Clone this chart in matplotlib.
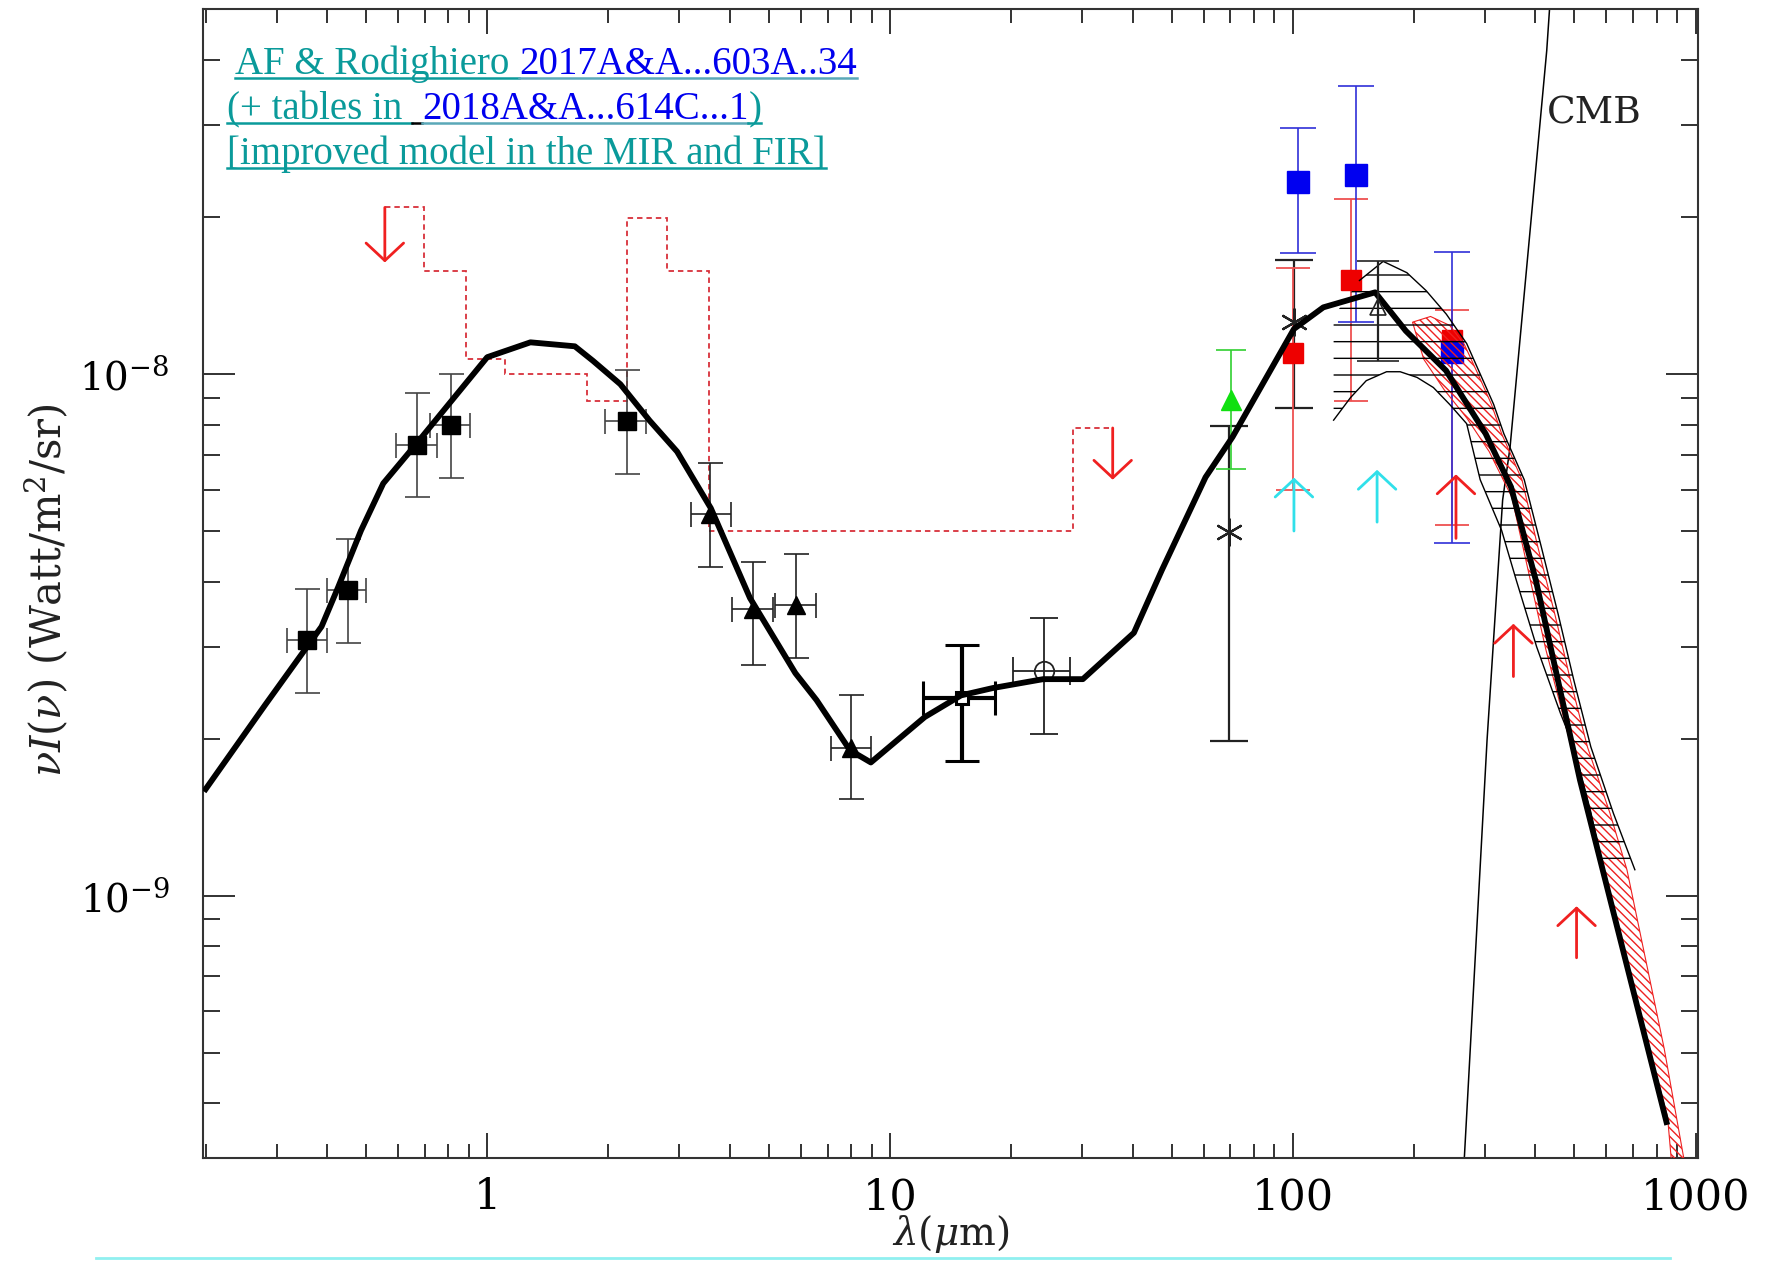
"""Extragalactic background light SED: model, data points, limits and the CMB."""
import matplotlib
matplotlib.use("Agg")
import matplotlib.pyplot as plt
from matplotlib.lines import Line2D
from matplotlib.patches import Polygon
from matplotlib.ticker import FixedLocator, LogLocator, NullFormatter, FuncFormatter
import numpy as np

plt.rcParams['font.family'] = 'DejaVu Serif'
plt.rcParams['mathtext.fontset'] = 'dejavuserif'
plt.rcParams['hatch.linewidth'] = 1.0

# model SED (thick black curve)
model_lam = [0.20, 0.281, 0.388, 0.427, 0.486, 0.552, 0.670, 0.814, 1.00, 1.28,
             1.65, 1.83, 2.14, 2.53, 2.96, 3.59, 4.49, 5.82, 6.57, 7.95, 8.96,
             12.2, 15.0, 18.0, 24.0, 30.1, 40.3, 47.3, 60.7, 70.8, 100.6, 119,
             160, 190.6, 240, 301, 348, 401, 516, 846]
model_nuI = [1.60e-9, 2.32e-9, 3.28e-9, 3.91e-9, 5.01e-9, 6.17e-9, 7.38e-9,
             8.87e-9, 1.077e-8, 1.15e-8, 1.13e-8, 1.06e-8, 9.56e-9, 8.14e-9,
             7.10e-9, 5.53e-9, 3.72e-9, 2.67e-9, 2.37e-9, 1.90e-9, 1.80e-9,
             2.20e-9, 2.42e-9, 2.50e-9, 2.60e-9, 2.60e-9, 3.19e-9, 4.21e-9,
             6.34e-9, 7.57e-9, 1.22e-8, 1.342e-8, 1.434e-8, 1.21e-8, 1.015e-8,
             7.68e-9, 6.07e-9, 4.02e-9, 1.665e-9, 3.68e-10]

# CMB blackbody
cmb_lam = [435, 426.7, 346, 331.6, 303.4, 266.6, 264]
cmb_nuI = [5.2e-8, 4.17e-8, 7.24e-9, 5.73e-9, 1.99e-9, 3.17e-10, 2.9e-10]

# upper-limit histogram (red dashed steps)
ul_edges = [0.557, 0.696, 0.888, 1.106, 1.764, 2.218, 2.798, 3.556, 28.5, 35.7]
ul_vals = [2.086e-8, 1.578e-8, 1.069e-8, 1.0e-8, 8.87e-9, 1.99e-8, 1.578e-8,
           5.0e-9, 7.88e-9]

# optical / NIR squares
sq_x = [0.356, 0.450, 0.670, 0.815, 2.22]
sq_y = [3.09e-9, 3.85e-9, 7.31e-9, 7.97e-9, 8.11e-9]
sq_ylo = [2.45e-9, 3.05e-9, 5.81e-9, 6.32e-9, 6.44e-9]
sq_yhi = [3.87e-9, 4.82e-9, 9.19e-9, 1.0e-8, 1.018e-8]
sq_xlo = [0.319, 0.400, 0.593, 0.720, 1.96]
sq_xhi = [0.400, 0.501, 0.749, 0.905, 2.48]

# NIR / MIR triangles
tri_x = [3.58, 4.57, 5.83, 8.0]
tri_y = [5.40e-9, 3.55e-9, 3.60e-9, 1.92e-9]
tri_ylo = [4.26e-9, 2.77e-9, 2.85e-9, 1.53e-9]
tri_yhi = [6.75e-9, 4.37e-9, 4.51e-9, 2.42e-9]
tri_xlo = [3.21, 4.06, 5.18, 7.14]
tri_xhi = [4.04, 5.11, 6.54, 8.99]

# 15 and 24 micron points
osq_x, osq_y, osq_ylo, osq_yhi, osq_xlo, osq_xhi = 15.06, 2.39e-9, 1.81e-9, 3.02e-9, 12.1, 18.2
oc_x, oc_y, oc_ylo, oc_yhi, oc_xlo, oc_xhi = 24.1, 2.70e-9, 2.04e-9, 3.40e-9, 20.2, 28.0

# FIR points
ast_x = [69.4, 100.6]
ast_y = [4.98e-9, 1.256e-8]
ast_ylo = [1.98e-9, 8.6e-9]
ast_yhi = [7.94e-9, 1.657e-8]

otri_x, otri_y, otri_ylo, otri_yhi = 162.9, 1.342e-8, 1.061e-8, 1.644e-8
grn_x, grn_y, grn_ylo, grn_yhi = 70.2, 8.9e-9, 6.56e-9, 1.112e-8

blue_x = [102.9, 143.6, 247.8]
blue_y = [2.336e-8, 2.406e-8, 1.10e-8]
blue_ylo = [1.707e-8, 1.257e-8, 4.74e-9]
blue_yhi = [2.96e-8, 3.565e-8, 1.715e-8]

red_x = [100.0, 139.1, 247.8]
red_y = [1.096e-8, 1.514e-8, 1.162e-8]
red_ylo = [5.98e-9, 8.89e-9, 5.14e-9]
red_yhi = [1.598e-8, 2.165e-8, 1.328e-8]

# lower limits (x, arrow base, arrow tip)
cyan_lim = [(100.6, 5.0e-9, 6.33e-9), (161.8, 5.2e-9, 6.55e-9)]
red_lim = [(254, 4.84e-9, 6.42e-9), (352.7, 2.63e-9, 3.32e-9), (506, 7.6e-10, 9.54e-10)]
# upper limits (x, arrow base, arrow tip)
red_ul = [(0.557, 2.086e-8, 1.636e-8), (35.7, 7.88e-9, 6.27e-9)]

# model uncertainty band (black hatch): top/right side then bottom/left side
band_top_lam = [126.2, 146.3, 167.5, 191.8, 214.1, 240.4, 270.0, 291.7, 315.1,
                334.0, 375.2, 413.4, 455.2, 498.3, 549.0, 624.6, 706.1]
band_top_nuI = [1.289e-8, 1.511e-8, 1.644e-8, 1.564e-8, 1.445e-8, 1.302e-8,
                1.144e-8, 1.0e-8, 8.74e-9, 7.68e-9, 6.27e-9, 4.67e-9, 3.47e-9,
                2.585e-9, 1.928e-9, 1.438e-9, 1.121e-9]
band_bot_lam = [589.3, 549.0, 498.3, 461.2, 402.7, 358.5, 329.8, 291.7, 270.0,
                245.1, 223.2, 203.3, 184.6, 170.8, 152.1, 139.0, 126.2]
band_bot_nuI = [1.121e-9, 1.445e-9, 1.928e-9, 2.239e-9, 3.0e-9, 4.025e-9,
                5.01e-9, 6.27e-9, 8.03e-9, 8.74e-9, 9.42e-9, 9.85e-9, 1.01e-8,
                1.01e-8, 9.71e-9, 9.01e-9, 8.156e-9]

# red hatched band: left side downwards, then right side upwards
rband_lam = [198.1, 211.3, 237.4, 270.0, 307.1, 349.4, 424.2, 514.7, 624.6,
             733.9, 851.1, 873.4, 943.6, 835, 674.8, 612.6, 538.4, 488.8,
             446.6, 405.3, 370.4, 329.8, 311.2, 288.0, 266.6, 245.1, 219.6]
rband_nuI = [1.257e-8, 1.067e-8, 9.33e-9, 8.24e-9, 7.10e-9, 5.81e-9, 2.97e-9,
             1.677e-9, 9.23e-10, 5.76e-10, 3.77e-10, 3.0e-10, 3.0e-10, 5.09e-10,
             1.121e-9, 1.438e-9, 1.928e-9, 2.585e-9, 3.47e-9, 4.67e-9, 6.27e-9,
             7.68e-9, 8.74e-9, 1.0e-8, 1.138e-8, 1.239e-8, 1.289e-8]

W, H = 1769, 1261
fig = plt.figure(figsize=(W / 100, H / 100), dpi=100)
ax = fig.add_axes([203 / W, 1 - 1158 / H, (1698 - 203) / W, (1158 - 9.4) / H])
ax.set_xscale('log')
ax.set_yscale('log')
ax.set_xlim(0.197, 1013)
ax.set_ylim(3.14e-10, 5.0e-8)


def errpts(x, y, ylo, yhi, xlo=None, xhi=None, **kw):
    x = np.atleast_1d(np.asarray(x, float))
    y = np.atleast_1d(np.asarray(y, float))
    yerr = [y - np.atleast_1d(ylo), np.atleast_1d(yhi) - y]
    xerr = None
    if xlo is not None:
        xerr = [x - np.atleast_1d(xlo), np.atleast_1d(xhi) - x]
    ax.errorbar(x, y, yerr=yerr, xerr=xerr, linestyle='none', **kw)


# red dashed upper-limit steps
ax.stairs(ul_vals, ul_edges, baseline=None, color='#d8303a', lw=1.3,
          ls=(0, (3, 2.2)), zorder=2)

# CMB
ax.plot(cmb_lam, cmb_nuI, color='black', lw=1.1, zorder=2)
fig.text(1594 / W, 1 - 113 / H, 'CMB', fontsize=27, ha='center', va='center',
         color='#222222')

# data points
blk = '#222222'
errpts(sq_x, sq_y, sq_ylo, sq_yhi, sq_xlo, sq_xhi, marker='s', ms=13.5,
       color='black', ecolor='#444444', elinewidth=1.2, capsize=9, capthick=1.2, zorder=3)
errpts(tri_x, tri_y, tri_ylo, tri_yhi, tri_xlo, tri_xhi, marker='^', ms=13.5,
       color='black', ecolor=blk, elinewidth=1.2, capsize=9, capthick=1.2, zorder=3)
errpts(osq_x, osq_y, osq_ylo, osq_yhi, osq_xlo, osq_xhi, marker='s', ms=9,
       mfc='white', mec='black', mew=2.2, color='black', ecolor='black',
       elinewidth=3, capsize=12, capthick=3, zorder=3)
errpts(oc_x, oc_y, oc_ylo, oc_yhi, oc_xlo, oc_xhi, marker='o', ms=14,
       mfc='none', mec=blk, mew=1.3, ecolor=blk, elinewidth=1.3, capsize=10,
       capthick=1.3, zorder=3)
errpts(ast_x, ast_y, ast_ylo, ast_yhi, marker=(6, 2, 0), ms=20, color=blk,
       mew=1.6, ecolor=blk, elinewidth=1.6, capsize=14, capthick=1.6, zorder=3)
errpts(grn_x, grn_y, grn_ylo, grn_yhi, marker='^', ms=15, color='#10e010',
       ecolor='#30d030', elinewidth=1.2, capsize=11, capthick=1.2, zorder=3)
errpts(red_x, red_y, red_ylo, red_yhi, marker='s', ms=15, color='#ee0000',
       ecolor='#ee5050', elinewidth=1.3, capsize=12, capthick=1.3, zorder=3)
errpts(blue_x, blue_y, blue_ylo, blue_yhi, marker='s', ms=16, color='#0000f0',
       ecolor='#3030d8', elinewidth=1.2, capsize=13, capthick=1.2, zorder=3)
errpts(otri_x, otri_y, otri_ylo, otri_yhi, marker='^', ms=12, mfc='none',
       mec=blk, mew=1.2, ecolor=blk, elinewidth=1.6, capsize=15, capthick=1.6, zorder=6)

# hatched model bands
rband = Polygon(np.column_stack([rband_lam, rband_nuI]), closed=True,
                facecolor='none', edgecolor='#ee2020', lw=0.8, hatch='\\\\\\\\',
                zorder=4)
ax.add_patch(rband)
band_lam = band_top_lam + band_bot_lam
band_nuI = band_top_nuI + band_bot_nuI
band = Polygon(np.column_stack([band_lam, band_nuI]), closed=True,
               facecolor='none', edgecolor='black', lw=0, hatch='-', zorder=4)
ax.add_patch(band)
ax.plot(band_top_lam[1:], band_top_nuI[1:], color='black', lw=1.0, zorder=4)
ax.plot(band_bot_lam, band_bot_nuI, color='black', lw=1.0, zorder=4)

# model
ax.plot(model_lam, model_nuI, color='black', lw=4.2, solid_joinstyle='round',
        zorder=5)


# limits
def arrow(x, y0, y1, color):
    ax.annotate('', xy=(x, y1), xytext=(x, y0),
                arrowprops=dict(arrowstyle='->,head_length=0.42,head_width=0.45',
                                color=color, lw=2.0, shrinkA=0, shrinkB=0,
                                mutation_scale=30), zorder=6)


for x, y0, y1 in cyan_lim:
    arrow(x, y0, y1, '#30e0ea')
for x, y0, y1 in red_lim + red_ul:
    arrow(x, y0, y1, '#f02020')

# axes styling
for s in ax.spines.values():
    s.set_color('#333333')
    s.set_linewidth(1.5)
ax.xaxis.set_major_locator(FixedLocator([1, 10, 100, 1000]))
ax.xaxis.set_major_formatter(FuncFormatter(lambda v, p: f'{v:g}'))
ax.xaxis.set_minor_locator(LogLocator(base=10, subs=np.arange(2, 10)))
ax.xaxis.set_minor_formatter(NullFormatter())
ax.yaxis.set_minor_locator(LogLocator(base=10, subs=np.arange(2, 10)))
ax.yaxis.set_minor_formatter(NullFormatter())
ax.tick_params(which='both', direction='in', top=True, right=True,
               color='#222222', width=1.3)
ax.tick_params(axis='x', which='major', length=18, pad=13, labelsize=31)
ax.tick_params(axis='x', which='minor', length=10)
ax.tick_params(axis='y', which='major', length=23, pad=24, labelsize=28)
ax.tick_params(axis='y', which='minor', length=12.5)

fig.text(47 / W, 1 - 590 / H, r'$\nu I(\nu)$ (Watt/m$^2$/sr)', rotation=90,
         fontsize=30, ha='center', va='center', color='#222222')
fig.text(951 / W, 1 - 1234 / H, r'$\lambda(\mu$m$)$', fontsize=28,
         ha='center', va='center', color='#222222')

# reference lines at the top left, with underlines
teal = '#0a9a9a'
blue = '#0000ee'
lines = [
    (235, 74, [('AF & Rodighiero ', teal, teal), ('2017A&A...603A..34', blue, '#5aa8b8')]),
    (227, 119, [('(+ tables in ', teal, teal), (' ', teal, 'black'),
                ('2018A&A...614C...1', blue, '#5aa8b8'), (')', teal, teal)]),
    (227, 164, [('[improved model in the MIR and FIR]', teal, teal)]),
]
fig.canvas.draw()
rend = fig.canvas.get_renderer()
inv = fig.transFigure.inverted()
for x0, yb, parts in lines:
    prev = None
    for txt, col, ucol in parts:
        t = fig.text(x0 / W, 1 - yb / H, txt, color=col, fontsize=28,
                     family='Liberation Serif', va='baseline', ha='left')
        if prev is not None:
            bb_prev = prev.get_window_extent(rend)
            t.set_position(inv.transform((bb_prev.x1, H - yb)))
        bb = t.get_window_extent(rend)
        ul = inv.transform([(bb.x0, H - yb - 4), (bb.x1, H - yb - 4)])
        fig.add_artist(Line2D(ul[:, 0], ul[:, 1], color=ucol, lw=1.8))
        prev = t

# thin rule along the bottom edge
fig.add_artist(Line2D([96 / W, 1670 / W], [1 - 1258 / H] * 2, color='#90f0f0', lw=2))

fig.savefig('out.png', dpi=100)
